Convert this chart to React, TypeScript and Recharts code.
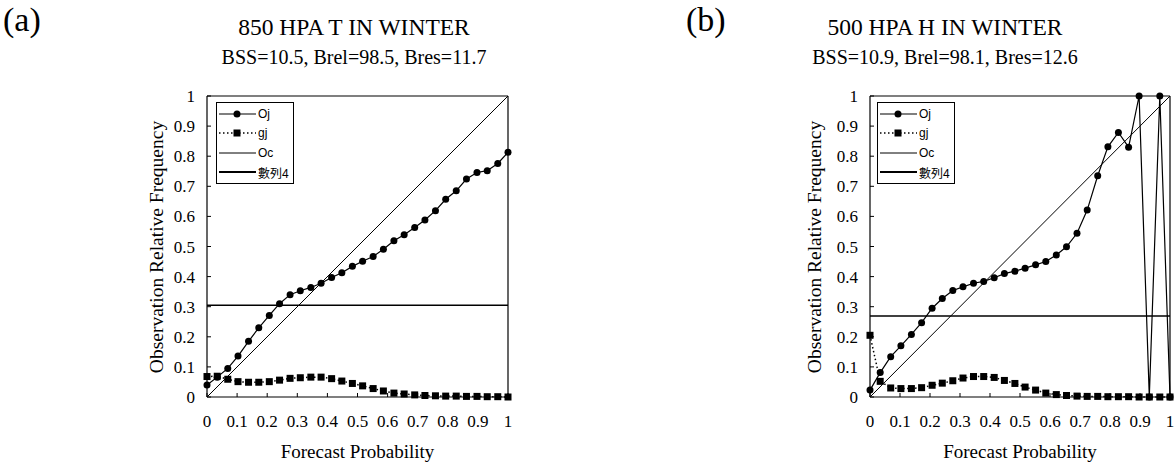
import React from 'react';
import { LineChart, Line, XAxis, YAxis, ReferenceLine, Legend } from 'recharts';

const PROB = [0, 0.034, 0.069, 0.103, 0.138, 0.172, 0.207, 0.241, 0.276, 0.310, 0.345, 0.379, 0.414, 0.448, 0.483, 0.517, 0.552, 0.586, 0.621, 0.655, 0.690, 0.724, 0.759, 0.793, 0.828, 0.862, 0.897, 0.931, 0.966, 1];

const OJ_A = [0.040, 0.066, 0.095, 0.136, 0.185, 0.230, 0.271, 0.310, 0.340, 0.353, 0.364, 0.378, 0.397, 0.413, 0.434, 0.451, 0.467, 0.491, 0.519, 0.539, 0.563, 0.588, 0.619, 0.657, 0.685, 0.724, 0.746, 0.752, 0.776, 0.813];
const GJ_A = [0.068, 0.069, 0.059, 0.051, 0.049, 0.049, 0.051, 0.056, 0.062, 0.064, 0.066, 0.066, 0.061, 0.053, 0.045, 0.037, 0.028, 0.020, 0.013, 0.010, 0.007, 0.005, 0.004, 0.003, 0.003, 0.002, 0.002, 0.001, 0.001, 0.0];
const OC_A = 0.305;

const OJ_B = [0.023, 0.081, 0.134, 0.170, 0.208, 0.247, 0.295, 0.327, 0.354, 0.366, 0.378, 0.384, 0.396, 0.410, 0.418, 0.428, 0.439, 0.450, 0.472, 0.499, 0.544, 0.621, 0.735, 0.831, 0.879, 0.830, 1.0, 0.0, 1.0, 0.0];
const GJ_B = [0.205, 0.052, 0.030, 0.028, 0.028, 0.031, 0.039, 0.046, 0.054, 0.063, 0.068, 0.068, 0.065, 0.055, 0.045, 0.033, 0.023, 0.013, 0.008, 0.005, 0.003, 0.002, 0.002, 0.001, 0.001, 0.001, 0.0, 0.0, 0.0, 0.0];
const OC_B = 0.269;

const TICKS = [0, 0.1, 0.2, 0.3, 0.4, 0.5, 0.6, 0.7, 0.8, 0.9, 1];
const TICK_LABELS = ['0', '0.1', '0.2', '0.3', '0.4', '0.5', '0.6', '0.7', '0.8', '0.9', '1'];
const DIAG = [{ x: 0, y: 0 }, { x: 1, y: 1 }];
const LEGEND_NAMES = ['Oj', 'gj', 'Oc', '數列4'];

const PANEL_A = { tag: '(a)', title: '850 HPA T IN WINTER', sub: 'BSS=10.5, Brel=98.5, Bres=11.7' };
const PANEL_B = { tag: '(b)', title: '500 HPA H IN WINTER', sub: 'BSS=10.9, Brel=98.1, Bres=12.6' };
const X_TITLE = 'Forecast Probability';
const Y_TITLE = 'Observation Relative Frequency';

const SERIF = '"Liberation Serif", "Times New Roman", serif';

const buildRows = (oj: number[], gj: number[]) => PROB.map((p, i) => ({ x: p, oj: oj[i], gj: gj[i] }));

const SquareDot = (props: any) => {
  const { cx, cy, index } = props;
  if (cx == null || cy == null) return <g key={`s${index}`} />;
  return <rect key={`s${index}`} x={cx - 3.5} y={cy - 3.5} width={7} height={7} fill="#000" />;
};

const LegendBox = () => (
  <div style={{ border: '1px solid #000', background: '#fff', width: 76, padding: '1px 0', fontFamily: '"Liberation Sans Narrow", "Liberation Sans", Arial, "Noto Sans CJK TC", sans-serif', fontSize: 12, color: '#000' }}>
    {LEGEND_NAMES.map((name, i) => (
      <div key={name} style={{ display: 'flex', alignItems: 'center', height: 19.5 }}>
        <svg width={40} height={12} style={{ marginLeft: 1 }}>
          {i === 0 && <line x1={1} y1={6} x2={38} y2={6} stroke="#000" strokeWidth={1.2} />}
          {i === 0 && <circle cx={19} cy={6} r={3.5} fill="#000" />}
          {i === 1 && <line x1={1} y1={6} x2={38} y2={6} stroke="#000" strokeWidth={1.5} strokeDasharray="1.5 2.5" />}
          {i === 1 && <rect x={15.5} y={2.5} width={7} height={7} fill="#000" />}
          {i === 2 && <line x1={1} y1={6} x2={38} y2={6} stroke="#000" strokeWidth={1} />}
          {i === 3 && <line x1={1} y1={6} x2={38} y2={6} stroke="#000" strokeWidth={2} />}
        </svg>
        <span>{name}</span>
      </div>
    ))}
  </div>
);

type PanelProps = { oj: number[]; gj: number[]; oc: number; left: number; width: number; marginLeft: number; marginRight: number; legendLeft: number };

const Panel = ({ oj, gj, oc, left, width, marginLeft, marginRight, legendLeft }: PanelProps) => {
  const rows = buildRows(oj, gj);
  const tickStyle = { fontFamily: SERIF, fontSize: 17, fill: '#000' };
  return (
    <div style={{ position: 'absolute', left, top: 0 }}>
      <LineChart width={width} height={468} data={rows} margin={{ top: 96, right: marginRight, bottom: 41, left: marginLeft }}>
        <XAxis type="number" dataKey="x" domain={[0, 1]} ticks={TICKS} tickFormatter={(v: number) => TICK_LABELS[TICKS.indexOf(v)]}
          axisLine={{ stroke: '#000', strokeWidth: 1.2 }} tickLine={{ stroke: '#000' }} tickSize={-4} tickMargin={22} tick={tickStyle} height={30} interval={0} />
        <YAxis type="number" domain={[0, 1]} ticks={TICKS} tickFormatter={(v: number) => TICK_LABELS[TICKS.indexOf(v)]}
          axisLine={{ stroke: '#000', strokeWidth: 1.2 }} tickLine={{ stroke: '#000' }} tickSize={-4} tickMargin={16} tick={tickStyle} width={60} interval={0} />
        <ReferenceLine y={1} stroke="#000" strokeWidth={1.2} />
        <ReferenceLine x={1} stroke="#000" strokeWidth={1.2} />
        <ReferenceLine y={oc} stroke="#000" strokeWidth={1.6} />
        <ReferenceLine segment={DIAG} stroke="#000" strokeWidth={1} />
        <Line type="linear" dataKey="oj" stroke="#000" strokeWidth={1.2} dot={{ r: 3.5, fill: '#000', stroke: '#000', strokeWidth: 0 }} isAnimationActive={false} />
        <Line type="linear" dataKey="gj" stroke="#000" strokeWidth={1.5} strokeDasharray="1.5 2.5" dot={SquareDot} isAnimationActive={false} />
        <Legend layout="horizontal" verticalAlign="middle" align="center" content={() => <LegendBox />}
          wrapperStyle={{ left: legendLeft, top: 102, width: 'auto', height: 'auto' }} />
      </LineChart>
    </div>
  );
};

const Text = ({ children, x, top, size, center = true, lh = 1 }: any) => (
  <div style={{ position: 'absolute', left: x, top, fontFamily: SERIF, fontSize: size, lineHeight: lh, whiteSpace: 'nowrap', color: '#000', transform: center ? 'translateX(-50%)' : undefined }}>{children}</div>
);

const RotText = ({ children, x, y, size }: any) => (
  <div style={{ position: 'absolute', left: x, top: y, fontFamily: SERIF, fontSize: size, lineHeight: 1, whiteSpace: 'nowrap', color: '#000', transform: 'translate(-50%, -50%) rotate(-90deg)' }}>{children}</div>
);

export default function App() {
  return (
    <div style={{ position: 'absolute', left: 0, top: 0, width: 1174, height: 468, background: '#fff', overflow: 'hidden' }}>
      <Panel oj={OJ_A} gj={GJ_A} oc={OC_A} left={0} width={580} marginLeft={147} marginRight={72} legendLeft={216} />
      <Panel oj={OJ_B} gj={GJ_B} oc={OC_B} left={640} width={534} marginLeft={170} marginRight={4} legendLeft={237} />

      <Text x={3} top={0} size={34} lh={1.2} center={false}>{PANEL_A.tag}</Text>
      <Text x={354} top={15.5} size={23.5}>{PANEL_A.title}</Text>
      <Text x={354} top={46.5} size={20}>{PANEL_A.sub}</Text>
      <Text x={357.5} top={441.7} size={19}>{X_TITLE}</Text>
      <RotText x={156.5} y={247} size={19.5}>{Y_TITLE}</RotText>

      <Text x={686} top={0} size={34} lh={1.2} center={false}>{PANEL_B.tag}</Text>
      <Text x={945} top={15.5} size={23.5}>{PANEL_B.title}</Text>
      <Text x={945} top={46.5} size={20}>{PANEL_B.sub}</Text>
      <Text x={1020} top={441.7} size={19}>{X_TITLE}</Text>
      <RotText x={814.5} y={247} size={19.5}>{Y_TITLE}</RotText>
    </div>
  );
}
